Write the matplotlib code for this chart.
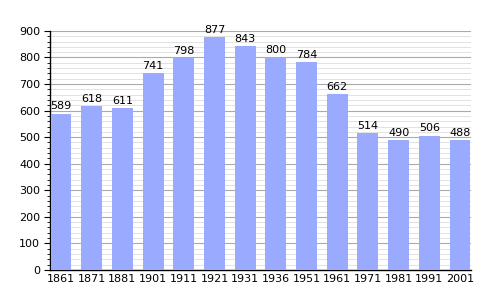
import matplotlib
matplotlib.use("Agg")
import matplotlib.pyplot as plt
from matplotlib.ticker import MultipleLocator

years = ["1861", "1871", "1881", "1901", "1911", "1921", "1931", "1936", "1951", "1961", "1971", "1981", "1991", "2001"]
population = [589, 618, 611, 741, 798, 877, 843, 800, 784, 662, 514, 490, 506, 488]

fig = plt.figure(figsize=(5, 3), dpi=100)
ax = fig.add_axes([0.1, 0.1, 0.842, 0.797])

x = list(range(len(years)))
ax.bar(x, population, width=0.68, color="#99aaff", zorder=3)

ax.set_ylim(0, 900)
ax.set_xlim(-0.36, len(years) - 0.64)
ax.yaxis.set_major_locator(MultipleLocator(100))
ax.yaxis.set_minor_locator(MultipleLocator(20))
ax.grid(axis="y", which="major", color="#aaaaaa", linewidth=0.8, zorder=0)
ax.grid(axis="y", which="minor", color="#dddddd", linewidth=0.6, zorder=0)
ax.set_xticks(x)
ax.set_xticklabels(years)
ax.tick_params(axis="x", length=0, labelsize=8, pad=3)
ax.tick_params(axis="y", which="major", length=4, labelsize=8, pad=3)
ax.tick_params(axis="y", which="minor", length=2)
for s in ["top", "right"]:
    ax.spines[s].set_visible(False)
ax.spines["left"].set_linewidth(1.0)
ax.spines["bottom"].set_linewidth(1.0)

for xi, v in zip(x, population):
    ax.text(xi, v + 8, str(v), ha="center", va="bottom", fontsize=8, zorder=4)

fig.savefig("out.png", dpi=100)
